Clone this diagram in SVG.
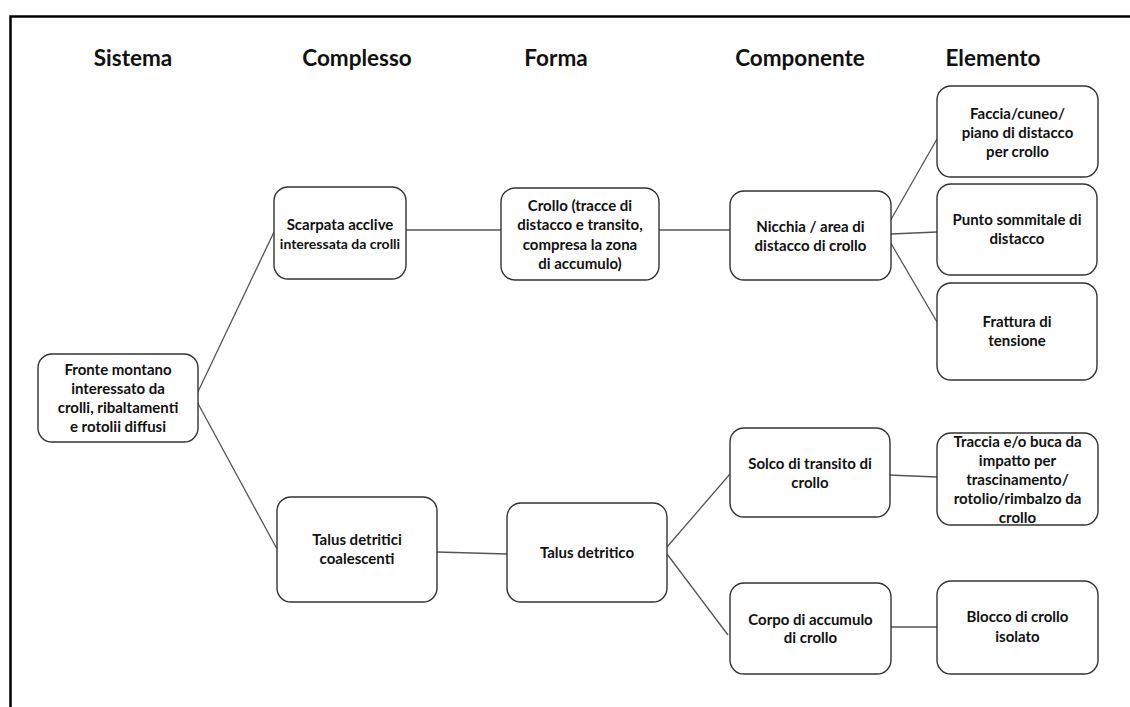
<svg xmlns="http://www.w3.org/2000/svg" width="1130" height="707" viewBox="0 0 1130 707">
<style>
.frame{fill:none;stroke:#000;stroke-width:2.5}
.hdr{font-family:Lato,"Open Sans","Liberation Sans",sans-serif;font-weight:bold;font-size:22.5px;fill:#111;text-anchor:middle}
.box{fill:#fff;stroke:#333;stroke-width:1.4}
.lbl{font-family:Lato,"Open Sans","Liberation Sans",sans-serif;font-weight:bold;font-size:15px;fill:#111;text-anchor:middle}
.con{fill:none;stroke:#555;stroke-width:1.3}
</style>
<rect x="0" y="0" width="1130" height="707" fill="#fff"/>
<path class="frame" d="M10.5 707 V16.5 H1130"/>
<g id="headers">
<text class="hdr" x="133" y="66">Sistema</text>
<text class="hdr" x="357" y="66">Complesso</text>
<text class="hdr" x="556" y="66">Forma</text>
<text class="hdr" x="800" y="66">Componente</text>
<text class="hdr" x="993" y="66">Elemento</text>
</g>
<g id="connectors">
<line class="con" x1="195" y1="398" x2="274" y2="232"/>
<line class="con" x1="195" y1="398" x2="277" y2="549"/>
<line class="con" x1="406" y1="230" x2="501" y2="230"/>
<line class="con" x1="659" y1="230" x2="730" y2="230"/>
<line class="con" x1="889" y1="223" x2="937" y2="139"/>
<line class="con" x1="891" y1="234" x2="937" y2="232"/>
<line class="con" x1="889" y1="240" x2="937" y2="322"/>
<line class="con" x1="437" y1="552" x2="507" y2="554"/>
<line class="con" x1="667" y1="547" x2="730" y2="474"/>
<line class="con" x1="667" y1="554" x2="728" y2="635"/>
<line class="con" x1="888" y1="475" x2="937" y2="477"/>
<line class="con" x1="891" y1="627" x2="937" y2="627"/>
</g>
<g id="fronte">
<rect class="box" x="38" y="354" width="160" height="88" rx="14"/>
<text class="lbl" x="118" y="375">Fronte montano</text>
<text class="lbl" x="118" y="394">interessato da</text>
<text class="lbl" x="118" y="413">crolli, ribaltamenti</text>
<text class="lbl" x="118" y="432">e rotolii diffusi</text>
</g>
<g id="scarpata">
<rect class="box" x="274" y="187" width="132" height="92" rx="14"/>
<text class="lbl" x="340" y="230">Scarpata acclive</text>
<text class="lbl" x="340" y="249" style="font-size:14px">interessata da crolli</text>
</g>
<g id="crollo">
<rect class="box" x="501" y="188" width="158" height="92" rx="14"/>
<text class="lbl" x="580" y="211">Crollo (tracce di</text>
<text class="lbl" x="580" y="230">distacco e transito,</text>
<text class="lbl" x="580" y="250">compresa la zona</text>
<text class="lbl" x="580" y="269">di accumulo)</text>
</g>
<g id="nicchia">
<rect class="box" x="730" y="191" width="161" height="89" rx="14"/>
<text class="lbl" x="810.5" y="232">Nicchia / area di</text>
<text class="lbl" x="810.5" y="251">distacco di crollo</text>
</g>
<g id="faccia">
<rect class="box" x="937" y="86" width="161" height="91" rx="14"/>
<text class="lbl" x="1017.5" y="119">Faccia/cuneo/</text>
<text class="lbl" x="1017.5" y="138">piano di distacco</text>
<text class="lbl" x="1017.5" y="157">per crollo</text>
</g>
<g id="punto">
<rect class="box" x="937" y="184" width="160" height="91" rx="14"/>
<text class="lbl" x="1017" y="225">Punto sommitale di</text>
<text class="lbl" x="1017" y="244">distacco</text>
</g>
<g id="frattura">
<rect class="box" x="937" y="283" width="160" height="97" rx="14"/>
<text class="lbl" x="1017" y="327">Frattura di</text>
<text class="lbl" x="1017" y="346">tensione</text>
</g>
<g id="talus-coalescenti">
<rect class="box" x="277" y="497" width="160" height="105" rx="14"/>
<text class="lbl" x="357" y="545">Talus detritici</text>
<text class="lbl" x="357" y="564">coalescenti</text>
</g>
<g id="talus-detritico">
<rect class="box" x="507" y="503" width="160" height="99" rx="14"/>
<text class="lbl" x="587" y="558">Talus detritico</text>
</g>
<g id="solco">
<rect class="box" x="730" y="428" width="160" height="89" rx="14"/>
<text class="lbl" x="810" y="469">Solco di transito di</text>
<text class="lbl" x="810" y="488">crollo</text>
</g>
<g id="traccia">
<rect class="box" x="937" y="433" width="161" height="92" rx="14"/>
<text class="lbl" x="1017.5" y="447">Traccia e/o buca da</text>
<text class="lbl" x="1017.5" y="466">impatto per</text>
<text class="lbl" x="1017.5" y="485">trascinamento/</text>
<text class="lbl" x="1017.5" y="504">rotolio/rimbalzo da</text>
<text class="lbl" x="1017.5" y="523">crollo</text>
</g>
<g id="corpo">
<rect class="box" x="730" y="583" width="161" height="91" rx="14"/>
<text class="lbl" x="810.5" y="625">Corpo di accumulo</text>
<text class="lbl" x="810.5" y="643">di crollo</text>
</g>
<g id="blocco">
<rect class="box" x="937" y="581" width="161" height="93" rx="14"/>
<text class="lbl" x="1017.5" y="622">Blocco di crollo</text>
<text class="lbl" x="1017.5" y="642">isolato</text>
</g>
</svg>
